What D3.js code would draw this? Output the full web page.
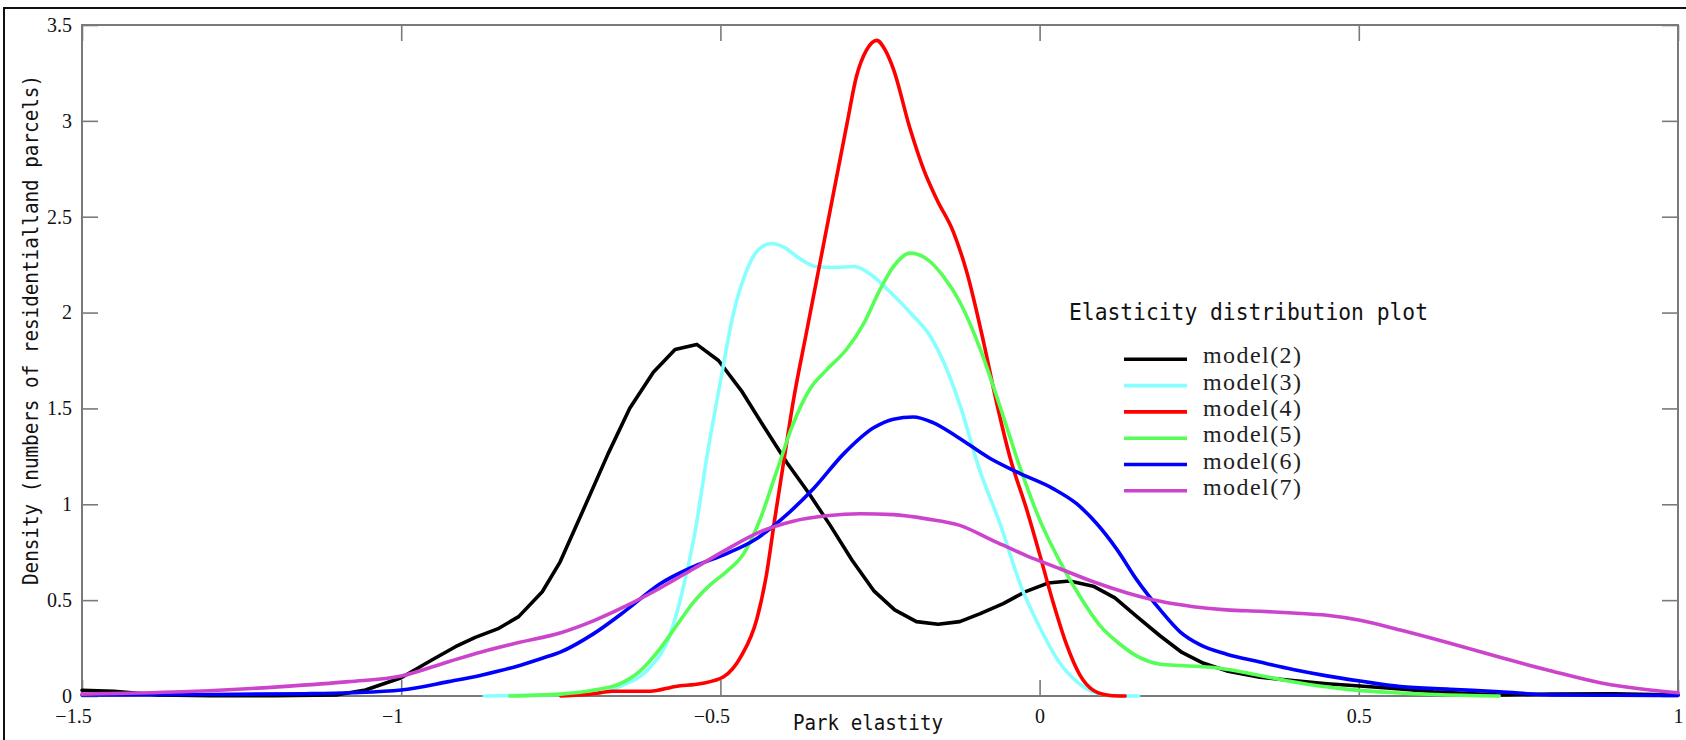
<!DOCTYPE html>
<html><head><meta charset="utf-8">
<script src="https://cdn.jsdelivr.net/npm/d3@7"></script>
<style>body{margin:0;background:#fff;}svg{display:block;}</style>
</head><body>
<svg id="chart" width="1686" height="740"></svg>
<script>
// ---- data ----
const seriesNames = ["model(2)","model(3)","model(4)","model(5)","model(6)","model(7)"];
const xTickValues = [-1.5,-1,-0.5,0,0.5,1];
const xTickLabels = ["\u22121.5","\u22121","\u22120.5","0","0.5","1"];
const yTickValues = [0,0.5,1,1.5,2,2.5,3,3.5];
const yTickLabels = ["0","0.5","1","1.5","2","2.5","3","3.5"];

const model2X = [-1.5,-1.45,-1.38,-1.3,-1.2,-1.1,-1.056,-1.0,-0.952,-0.915,-0.884,-0.847,-0.816,-0.779,-0.751,-0.715,-0.676,-0.642,-0.605,-0.571,-0.537,-0.503,-0.467,-0.433,-0.396,-0.362,-0.328,-0.294,-0.26,-0.227,-0.193,-0.159,-0.125,-0.093,-0.057,-0.023,0.013,0.047,0.084,0.118,0.152,0.189,0.223,0.256,0.293,0.345,0.397,0.45,0.502,0.56,0.616,0.721,0.8,0.9,1.0];
const model2Y = [0.03,0.025,0.005,0.002,0.002,0.006,0.031,0.095,0.188,0.257,0.306,0.353,0.414,0.544,0.70,0.969,1.263,1.501,1.689,1.807,1.834,1.75,1.592,1.411,1.218,1.06,0.89,0.709,0.55,0.449,0.388,0.374,0.388,0.43,0.482,0.543,0.589,0.60,0.573,0.512,0.415,0.313,0.227,0.172,0.131,0.098,0.08,0.064,0.052,0.038,0.022,0.005,0.01,0.012,0.005];

const model3X = [-0.87,-0.8,-0.7,-0.65,-0.61,-0.58,-0.56,-0.54,-0.52,-0.5,-0.48,-0.46,-0.44,-0.42,-0.4,-0.375,-0.35,-0.32,-0.29,-0.265,-0.235,-0.2,-0.17,-0.15,-0.125,-0.095,-0.06,-0.03,0,0.03,0.06,0.09,0.12,0.155];
const model3Y = [0,0.004,0.012,0.06,0.15,0.31,0.54,0.85,1.27,1.64,1.99,2.21,2.33,2.36,2.34,2.28,2.24,2.235,2.24,2.2,2.11,1.99,1.87,1.74,1.52,1.19,0.88,0.58,0.36,0.18,0.07,0.015,0.002,0];

const model4X = [-0.75,-0.7,-0.67,-0.61,-0.57,-0.53,-0.495,-0.467,-0.443,-0.428,-0.415,-0.4,-0.386,-0.365,-0.344,-0.323,-0.302,-0.287,-0.271,-0.255,-0.242,-0.229,-0.203,-0.182,-0.161,-0.135,-0.114,-0.088,-0.068,-0.046,-0.02,0,0.021,0.042,0.063,0.084,0.11,0.134];
const model4Y = [0,0.01,0.025,0.025,0.05,0.065,0.1,0.21,0.4,0.63,0.92,1.24,1.535,1.9,2.26,2.62,2.98,3.23,3.37,3.42,3.37,3.27,2.96,2.75,2.59,2.42,2.21,1.85,1.54,1.24,0.97,0.74,0.49,0.27,0.11,0.03,0.003,0];

const model5X = [-0.83,-0.75,-0.7,-0.657,-0.626,-0.595,-0.568,-0.542,-0.516,-0.49,-0.464,-0.438,-0.412,-0.386,-0.36,-0.334,-0.302,-0.276,-0.25,-0.229,-0.203,-0.177,-0.151,-0.125,-0.093,-0.062,-0.031,0,0.032,0.063,0.094,0.126,0.157,0.189,0.22,0.251,0.282,0.335,0.387,0.439,0.491,0.55,0.62,0.72];
const model5Y = [0,0.01,0.03,0.064,0.13,0.245,0.37,0.49,0.58,0.65,0.74,0.92,1.17,1.42,1.6,1.7,1.81,1.94,2.12,2.24,2.31,2.28,2.19,2.055,1.81,1.51,1.195,0.92,0.7,0.52,0.37,0.27,0.2,0.166,0.159,0.154,0.145,0.114,0.08,0.052,0.032,0.018,0.008,0];

const model6X = [-1.5,-1.3,-1.15,-1.08,-1.0,-0.926,-0.873,-0.821,-0.779,-0.75,-0.699,-0.647,-0.595,-0.542,-0.49,-0.448,-0.396,-0.354,-0.307,-0.26,-0.229,-0.198,-0.167,-0.13,-0.078,-0.031,0.021,0.058,0.089,0.121,0.152,0.189,0.22,0.251,0.293,0.345,0.397,0.45,0.502,0.565,0.643,0.721,0.8,0.9,1.0];
const model6Y = [0.005,0.008,0.012,0.017,0.031,0.075,0.11,0.153,0.197,0.23,0.324,0.449,0.584,0.675,0.743,0.811,0.946,1.082,1.263,1.399,1.444,1.455,1.426,1.354,1.24,1.161,1.082,1.003,0.901,0.765,0.607,0.449,0.335,0.268,0.218,0.177,0.138,0.105,0.078,0.049,0.035,0.022,0.006,0.004,0.003];

const model7X = [-1.5,-1.343,-1.187,-1.082,-1.0,-0.926,-0.873,-0.821,-0.75,-0.699,-0.647,-0.595,-0.542,-0.49,-0.438,-0.386,-0.334,-0.281,-0.229,-0.177,-0.125,-0.073,-0.02,0.032,0.084,0.136,0.189,0.241,0.293,0.345,0.397,0.45,0.502,0.565,0.643,0.721,0.8,0.878,0.956,1.0];
const model7Y = [0.01,0.022,0.049,0.075,0.104,0.179,0.231,0.275,0.33,0.392,0.471,0.562,0.664,0.765,0.856,0.912,0.94,0.951,0.946,0.924,0.89,0.811,0.731,0.664,0.596,0.539,0.494,0.466,0.449,0.442,0.433,0.421,0.395,0.344,0.275,0.202,0.132,0.069,0.031,0.017];

const seriesX = [model2X, model3X, model4X, model5X, model6X, model7X];
const seriesY = [model2Y, model3Y, model4Y, model5Y, model6Y, model7Y];
const seriesColors = ["#000000","#88ffff","#ff0000","#55ff55","#0000ff","#cc44cc"];

// ---- layout ----
const svg = d3.select("#chart");
const L = 82, R = 1678, T = 25, B = 696;
const x = d3.scaleLinear().domain([-1.5, 1]).range([L, R]);
const y = d3.scaleLinear().domain([0, 3.5]).range([B, T]);
const axisColor = "#7a7a7a";

// outer frame
svg.append("rect").attr("x", 4).attr("y", 8).attr("width", 1720).attr("height", 800)
  .attr("fill", "none").attr("stroke", "#111").attr("stroke-width", 2);

// plot frame
svg.append("rect").attr("x", L).attr("y", T).attr("width", R - L).attr("height", B - T)
  .attr("fill", "none").attr("stroke", axisColor).attr("stroke-width", 2);

function styleAxis(g) {
  g.select(".domain").remove();
  g.selectAll(".tick line").attr("stroke", axisColor).attr("stroke-width", 1.6);
}

// bottom axis
const gx = svg.append("g").attr("transform", `translate(0,${B})`)
  .call(d3.axisBottom(x).tickValues(xTickValues).tickSize(-16).tickSizeOuter(0)
    .tickFormat((d, i) => xTickLabels[i]));
styleAxis(gx);
gx.selectAll(".tick text")
  .attr("y", 27).attr("dy", null)
  .attr("dx", (d) => d < 0 ? -9 : 0)
  .attr("font-family", "'Liberation Serif','Times New Roman',serif")
  .attr("font-size", 20).attr("fill", "#111");

// top axis (ticks only)
const gt = svg.append("g").attr("transform", `translate(0,${T})`)
  .call(d3.axisTop(x).tickValues(xTickValues).tickSize(-16).tickSizeOuter(0).tickFormat(""));
styleAxis(gt);

// left axis
const gy = svg.append("g").attr("transform", `translate(${L},0)`)
  .call(d3.axisLeft(y).tickValues(yTickValues).tickSize(-16).tickSizeOuter(0).tickPadding(10)
    .tickFormat((d, i) => yTickLabels[i]));
styleAxis(gy);
gy.selectAll(".tick text")
  .attr("font-family", "'Liberation Serif','Times New Roman',serif")
  .attr("font-size", 20).attr("fill", "#111");

// right axis (ticks only)
const gr = svg.append("g").attr("transform", `translate(${R},0)`)
  .call(d3.axisRight(y).tickValues(yTickValues).tickSize(-16).tickSizeOuter(0).tickFormat(""));
styleAxis(gr);

// curves
const line = d3.line().x(d => x(d[0])).y(d => y(d[1]));
seriesNames.forEach((name, i) => {
  const pts = seriesX[i].map((v, j) => [v, seriesY[i][j]]);
  svg.append("path")
    .datum(pts)
    .attr("fill", "none")
    .attr("stroke", seriesColors[i])
    .attr("stroke-width", 3.6)
    .attr("stroke-linejoin", "round")
    .attr("stroke-linecap", "round")
    .attr("d", line.curve(i === 0 ? d3.curveLinear : d3.curveMonotoneX)(pts));
});

// axis labels
const monoFont = "'DejaVu Sans Mono','Liberation Mono',monospace";
svg.append("text").attr("x", 793).attr("y", 730)
  .attr("font-family", monoFont).attr("font-size", 21).attr("fill", "#111")
  .attr("textLength", 150).attr("lengthAdjust", "spacingAndGlyphs")
  .text("Park elastity");

svg.append("text")
  .attr("transform", "translate(38,330) rotate(-90)")
  .attr("text-anchor", "middle")
  .attr("font-family", monoFont).attr("font-size", 21).attr("fill", "#111")
  .attr("textLength", 510).attr("lengthAdjust", "spacingAndGlyphs")
  .text("Density (numbers of residentialland parcels)");

// legend
const lg = svg.append("g");
lg.append("text").attr("x", 1069).attr("y", 320)
  .attr("font-family", monoFont).attr("font-size", 23).attr("fill", "#111")
  .attr("textLength", 359).attr("lengthAdjust", "spacingAndGlyphs")
  .text("Elasticity distribution plot");

seriesNames.forEach((name, i) => {
  const yy = 359.3 + i * 26.3;
  lg.append("line").attr("x1", 1124).attr("x2", 1187).attr("y1", yy).attr("y2", yy)
    .attr("stroke", seriesColors[i]).attr("stroke-width", 3.6);
  lg.append("text").attr("x", 1203).attr("y", yy + 4)
    .attr("font-family", "'Liberation Serif','Times New Roman',serif")
    .attr("font-size", 24).attr("fill", "#222")
    .attr("textLength", 98).attr("lengthAdjust", "spacing")
    .text(name);
});
</script>
</body></html>
